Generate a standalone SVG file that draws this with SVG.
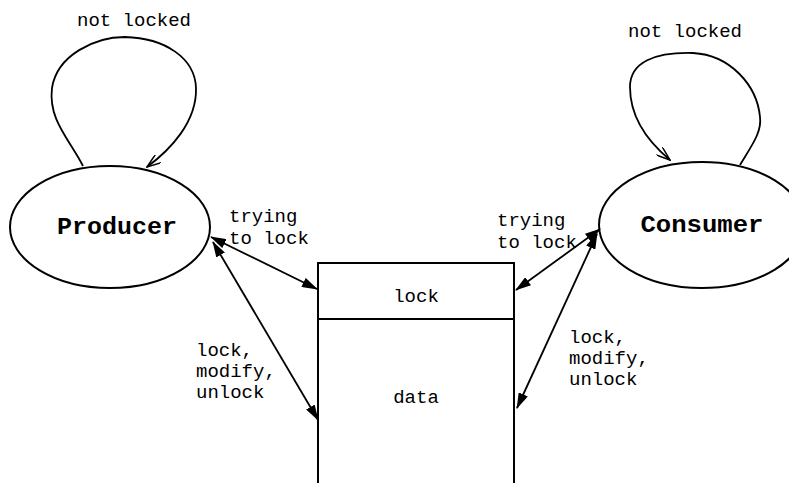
<svg xmlns="http://www.w3.org/2000/svg" width="789" height="483" viewBox="0 0 789 483">
  <style>
    .shape { fill: none; stroke: #000; stroke-width: 2; }
    .line { fill: none; stroke: #000; stroke-width: 1.8; }
    .lbl { font-family: "Liberation Mono", "Courier New", monospace; font-size: 19px; fill: #000; }
    .name { font-family: "Liberation Mono", "Courier New", monospace; font-size: 23px; font-weight: bold; fill: #000; }
  </style>
  <defs>
    <marker id="solid" markerWidth="16" markerHeight="10" refX="15" refY="5" orient="auto-start-reverse" markerUnits="userSpaceOnUse">
      <path d="M0,0 L16,5 L0,10 Z" fill="#000"/>
    </marker>
    <marker id="open" markerWidth="15" markerHeight="10" refX="14" refY="5" orient="auto" markerUnits="userSpaceOnUse">
      <path d="M0,0 L14,5 L0,10" fill="none" stroke="#000" stroke-width="1.5"/>
    </marker>
  </defs>
  <rect width="789" height="483" fill="#fff"/>

  <g id="producer">
    <ellipse class="shape" cx="110" cy="227" rx="100" ry="61"/>
    <text class="name" x="117" y="234" text-anchor="middle" textLength="120" lengthAdjust="spacingAndGlyphs">Producer</text>
  </g>

  <g id="consumer">
    <ellipse class="shape" cx="702" cy="225" rx="103" ry="63"/>
    <text class="name" x="702" y="232" text-anchor="middle" textLength="123" lengthAdjust="spacingAndGlyphs">Consumer</text>
  </g>

  <g id="shared">
    <rect class="shape" x="318" y="263" width="196" height="230"/>
    <line class="shape" x1="318" y1="319" x2="514" y2="319"/>
    <text class="lbl" x="416" y="302" text-anchor="middle">lock</text>
    <text class="lbl" x="416" y="403" text-anchor="middle">data</text>
  </g>

  <g id="connectors">
    <!-- self loops -->
    <path class="line" d="M83,166 C70,140 48,120 52,88 C57,55 95,37 125,37 C165,38 195,58 196,88 C197,122 170,150 147,167" marker-end="url(#open)"/>
    <path class="line" d="M740,165 C752,145 762,132 760,117 C757,85 730,55 693,53 C655,52 630,62 630,87 C630,110 640,135 670,160" marker-end="url(#open)"/>
    <!-- producer links -->
    <line class="line" x1="211" y1="237" x2="317" y2="289" marker-start="url(#solid)" marker-end="url(#solid)"/>
    <line class="line" x1="213" y1="242" x2="318" y2="420" marker-start="url(#solid)" marker-end="url(#solid)"/>
    <!-- consumer links -->
    <line class="line" x1="600" y1="229" x2="516" y2="290" marker-start="url(#solid)" marker-end="url(#solid)"/>
    <line class="line" x1="597" y1="234" x2="517" y2="408" marker-start="url(#solid)" marker-end="url(#solid)"/>
  </g>

  <g id="labels">
    <text class="lbl" x="134" y="26" text-anchor="middle">not locked</text>
    <text class="lbl" x="685" y="37" text-anchor="middle">not locked</text>
    <text class="lbl" x="229" y="222">trying</text>
    <text class="lbl" x="229" y="244">to lock</text>
    <text class="lbl" x="497" y="226">trying</text>
    <text class="lbl" x="497" y="248">to lock</text>
    <text class="lbl" x="196" y="356">lock,</text>
    <text class="lbl" x="196" y="377">modify,</text>
    <text class="lbl" x="196" y="398">unlock</text>
    <text class="lbl" x="569" y="343">lock,</text>
    <text class="lbl" x="569" y="364">modify,</text>
    <text class="lbl" x="569" y="385">unlock</text>
  </g>
</svg>
